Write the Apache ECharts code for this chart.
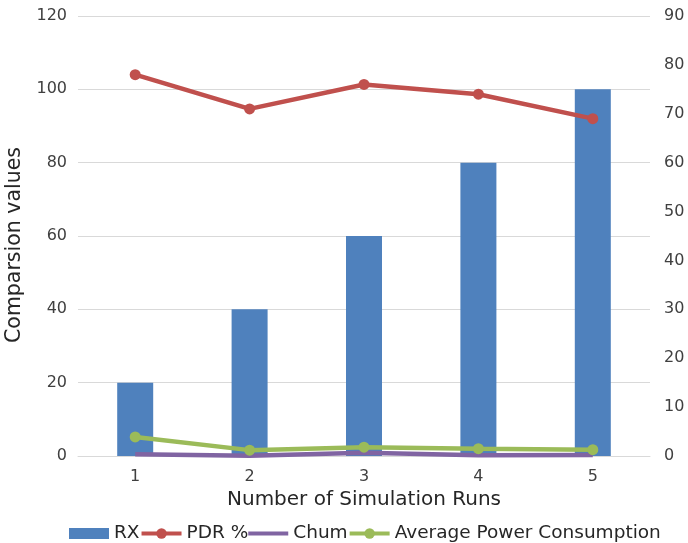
<!DOCTYPE html>
<html>
<head>
<meta charset="utf-8">
<style>
  html, body { margin: 0; padding: 0; background: #ffffff; }
  #chart { width: 688px; height: 543px; }
</style>
<script src="https://cdn.jsdelivr.net/npm/echarts@6/dist/echarts.min.js"></script>
</head>
<body>
<div id="chart"></div>
<script>
// Simulation run categories
const runs = ['1', '2', '3', '4', '5'];

// Series values
const rxValues = [20, 40, 60, 80, 100];          // left axis
const pdrValues = [78, 71, 76, 74, 69];          // right axis
const chumValues = [0.5, 0.1, 0.9, 0.2, 0.3];    // left axis
const powerValues = [3.9, 1.2, 1.8, 1.5, 1.3];   // right axis

const FONT = '"DejaVu Sans", "Open Sans", sans-serif';
const TEXT = '#262626';
const TICK = '#404040';

// legend glyphs: a flat block for the bars, a plain stroke for the marker-less line
const BLOCK_ICON = 'path://M0,0 H40 V11 H0 Z';
const STROKE_ICON = 'path://M0,0 H40 V4 H0 Z';

const chart = echarts.init(document.getElementById('chart'));

chart.setOption({
  animation: false,
  backgroundColor: '#ffffff',
  textStyle: { fontFamily: FONT, color: TEXT },
  grid: {
    left: 78, right: 38, top: 16, bottom: 87,
    containLabel: false,
    outerBoundsMode: 'none'
  },
  legend: {
    bottom: -5,
    left: 64,
    itemGap: 0,
    itemWidth: 40,
    itemHeight: 13,
    lineStyle: { width: 4 },
    textStyle: { fontFamily: FONT, fontSize: 18.5, color: TEXT },
    data: [
      { name: 'RX', icon: BLOCK_ICON },
      { name: 'PDR %' },
      { name: 'Chum', icon: STROKE_ICON },
      { name: 'Average Power Consumption' }
    ]
  },
  xAxis: {
    type: 'category',
    data: runs,
    boundaryGap: true,
    name: 'Number of Simulation Runs',
    nameLocation: 'middle',
    nameGap: 34,
    nameTextStyle: { fontFamily: FONT, fontSize: 20, color: TEXT },
    axisLine: { lineStyle: { color: '#d9d9d9', width: 1 } },
    axisTick: { show: false },
    axisLabel: { fontFamily: FONT, fontSize: 16, color: TICK, margin: 13 }
  },
  yAxis: [
    {
      type: 'value',
      min: 0,
      max: 120,
      interval: 20,
      name: 'Comparsion values',
      nameLocation: 'middle',
      nameGap: 51,
      nameTextStyle: { fontFamily: FONT, fontSize: 20.5, color: TEXT, padding: [0, 18, 0, 0] },
      axisLine: { show: false },
      axisTick: { show: false },
      axisLabel: { fontFamily: FONT, fontSize: 16, color: TICK, margin: 11 },
      splitLine: { lineStyle: { color: '#d9d9d9', width: 1 } }
    },
    {
      type: 'value',
      min: 0,
      max: 90,
      interval: 10,
      position: 'right',
      axisLine: { show: false },
      axisTick: { show: false },
      axisLabel: { fontFamily: FONT, fontSize: 16, color: TICK, margin: 14 },
      splitLine: { show: false }
    }
  ],
  series: [
    {
      name: 'RX',
      type: 'bar',
      yAxisIndex: 0,
      data: rxValues,
      barWidth: 36,
      itemStyle: { color: '#4f81bd' }
    },
    {
      name: 'PDR %',
      type: 'line',
      yAxisIndex: 1,
      data: pdrValues,
      symbol: 'circle',
      symbolSize: 11,
      lineStyle: { color: '#c0504d', width: 4.5 },
      itemStyle: { color: '#c0504d' }
    },
    {
      name: 'Chum',
      type: 'line',
      yAxisIndex: 0,
      data: chumValues,
      symbol: 'none',
      lineStyle: { color: '#8064a2', width: 4.5 },
      itemStyle: { color: '#8064a2' }
    },
    {
      name: 'Average Power Consumption',
      type: 'line',
      yAxisIndex: 1,
      data: powerValues,
      symbol: 'circle',
      symbolSize: 11,
      lineStyle: { color: '#9bbb59', width: 4.5 },
      itemStyle: { color: '#9bbb59' }
    }
  ]
});
</script>
</body>
</html>
